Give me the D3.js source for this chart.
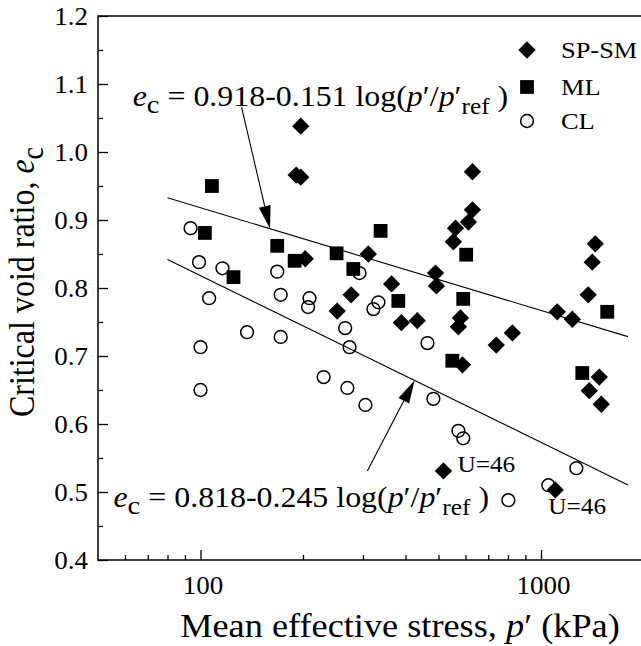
<!DOCTYPE html>
<html>
<head>
<meta charset="utf-8">
<script src="https://cdn.jsdelivr.net/npm/d3@7"></script>
<style>
  html, body { margin: 0; padding: 0; background: #fff; }
  svg { display: block; }
  text { font-family: "Liberation Serif", "Times New Roman", serif; fill: #000; }
</style>
</head>
<body>
<svg id="chart" width="641" height="646"></svg>
<script>
// Critical state void ratio e_c against mean effective stress p' (kPa)
// SP-SM sands
const spsmStress = [197, 191, 197, 203, 311, 364, 277, 252, 389, 433, 490, 493, 580, 572, 588, 517,
                    629, 629, 612, 561, 553, 739, 824, 1116, 1236, 1376, 1414, 1443, 1483, 1386, 1503, 1101];
const spsmVoid   = [1.038, 0.966, 0.963, 0.843, 0.850, 0.806, 0.790, 0.766, 0.749, 0.752, 0.822, 0.803, 0.756, 0.743, 0.687, 0.531,
                    0.971, 0.915, 0.897, 0.888, 0.868, 0.716, 0.734, 0.765, 0.754, 0.790, 0.838, 0.865, 0.669, 0.649, 0.629, 0.503];
// ML silts
const mlStress = [108, 103, 125, 168, 189, 251, 281, 338, 381, 603, 591, 549, 1322, 1565];
const mlVoid   = [0.950, 0.881, 0.816, 0.862, 0.840, 0.851, 0.828, 0.884, 0.781, 0.849, 0.784, 0.693, 0.675, 0.765];
// CL clays
const clStress = [93.5, 99, 116, 168, 106, 172, 209, 207, 137, 172, 100, 100, 230, 270, 305, 266, 274,
                  464, 483, 572, 591, 1270, 1051, 802, 293, 333, 322];
const clVoid   = [0.888, 0.838, 0.829, 0.824, 0.785, 0.790, 0.785, 0.772, 0.735, 0.728, 0.713, 0.650, 0.669, 0.653, 0.628, 0.741, 0.713,
                  0.719, 0.637, 0.590, 0.579, 0.535, 0.510, 0.488, 0.822, 0.779, 0.769];

// Fitted lines e_c = a - b log(p'/p'ref)
const fitIntercepts = [0.918, 0.818];
const fitSlopes = [0.151, 0.245];
const fitStressRange = [80, 1800];
const pRef = 100;

// Arrow tails (p', e_c) and the p' where each arrow meets its line
const arrowTailStress = [132, 309];
const arrowTailVoid = [1.066, 0.531];
const arrowTipStress = [160, 425];

// SP-SM points marked with U=46 (indices into the SP-SM arrays)
const uNoteIndex = [15, 31];
const uNoteText = ["U=46", "U=46"];

// Axes
const xDomain = [50, 2000];
const yDomain = [0.4, 1.2];
const xTickValues = [100, 1000];
const xTickLabels = ["100", "1000"];
const xMinorTicks = [60, 70, 80, 90, 200, 300, 400, 500, 600, 700, 800, 900];
const yTickValues = [0.4, 0.5, 0.6, 0.7, 0.8, 0.9, 1.0, 1.1, 1.2];
const yTickLabels = ["0.4", "0.5", "0.6", "0.7", "0.8", "0.9", "1.0", "1.1", "1.2"];
const yMinorTicks = [0.45, 0.55, 0.65, 0.75, 0.85, 0.95, 1.05, 1.15];

const legendLabels = ["SP-SM", "ML", "CL"];

const svg = d3.select("#chart");
const x = d3.scaleLog().domain(xDomain).range([98, 643.5]);
const y = d3.scaleLinear().domain(yDomain).range([560, 16]);

const SX = 1.1; // horizontal glyph stretch used for all text

// frame (right side runs past the visible area)
svg.append("rect")
  .attr("x", x(xDomain[0])).attr("y", y(yDomain[1]))
  .attr("width", x(xDomain[1]) - x(xDomain[0]))
  .attr("height", y(yDomain[0]) - y(yDomain[1]))
  .attr("fill", "none").attr("stroke", "#000").attr("stroke-width", 1.5);

function styleAxis(g) {
  g.selectAll(".domain").remove();
  g.selectAll(".tick line").attr("stroke", "#000").attr("stroke-width", 1.3);
}

// y axis: inward ticks
const gyMinor = svg.append("g").attr("transform", `translate(${x(xDomain[0])},0)`)
  .call(d3.axisLeft(y).tickValues(yMinorTicks).tickSize(-5).tickSizeOuter(0).tickFormat(""));
styleAxis(gyMinor);
const gy = svg.append("g").attr("transform", `translate(${x(xDomain[0])},0)`)
  .call(d3.axisLeft(y).tickValues(yTickValues).tickSize(-10).tickSizeOuter(0)
    .tickFormat((d, i) => yTickLabels[i]));
styleAxis(gy);
gy.selectAll(".tick text")
  .attr("x", null).attr("dy", "0.35em")
  .attr("transform", `translate(-10,0) scale(1.08,1)`)
  .attr("text-anchor", "end")
  .style("font-size", "25px").style("font-family", "Liberation Serif");

// x axis: inward ticks
const gxMinor = svg.append("g").attr("transform", `translate(0,${y(yDomain[0])})`)
  .call(d3.axisBottom(x).tickValues(xMinorTicks).tickSize(-5).tickSizeOuter(0).tickFormat(""));
styleAxis(gxMinor);
const gx = svg.append("g").attr("transform", `translate(0,${y(yDomain[0])})`)
  .call(d3.axisBottom(x).tickValues(xTickValues).tickSize(-10).tickSizeOuter(0)
    .tickFormat((d, i) => xTickLabels[i]));
styleAxis(gx);
gx.selectAll(".tick text")
  .attr("y", null).attr("dy", null)
  .attr("transform", `translate(2,34) scale(1.08,1)`)
  .attr("text-anchor", "middle")
  .style("font-size", "25px").style("font-family", "Liberation Serif");

// fitted lines
const lineGen = d3.line().x(d => x(d[0])).y(d => y(d[1]));
fitIntercepts.forEach((a, i) => {
  const pts = fitStressRange.map(p => [p, a - fitSlopes[i] * Math.log10(p / pRef)]);
  svg.append("path").attr("d", lineGen(pts))
    .attr("fill", "none").attr("stroke", "#000").attr("stroke-width", 1.1);
});

// arrows from equations to lines
arrowTailStress.forEach((p0, i) => {
  const p1 = arrowTipStress[i];
  const e1 = fitIntercepts[i] - fitSlopes[i] * Math.log10(p1 / pRef);
  const x0 = x(p0), y0 = y(arrowTailVoid[i]), x1 = x(p1), y1 = y(e1);
  const ang = Math.atan2(y1 - y0, x1 - x0);
  const len = 23, half = 6;
  const bx = x1 - len * Math.cos(ang), by = y1 - len * Math.sin(ang);
  svg.append("line").attr("x1", x0).attr("y1", y0).attr("x2", bx).attr("y2", by)
    .attr("stroke", "#000").attr("stroke-width", 1.1);
  const nx = -Math.sin(ang), ny = Math.cos(ang);
  svg.append("path")
    .attr("d", `M${x1},${y1}L${bx + nx * half},${by + ny * half}L${bx - nx * half},${by - ny * half}Z`)
    .attr("fill", "#000");
});

// markers
const diamond = d3.symbol().type(d3.symbolSquare).size(150);
const square = d3.symbol().type(d3.symbolSquare).size(190);

svg.append("g").selectAll("circle")
  .data(clStress.map((p, i) => [p, clVoid[i]]))
  .join("circle")
  .attr("cx", d => x(d[0])).attr("cy", d => y(d[1])).attr("r", 6.4)
  .attr("fill", "none").attr("stroke", "#000").attr("stroke-width", 1.5);

svg.append("g").selectAll("path")
  .data(mlStress.map((p, i) => [p, mlVoid[i]]))
  .join("path")
  .attr("d", square)
  .attr("transform", d => `translate(${x(d[0])},${y(d[1])})`)
  .attr("fill", "#000");

svg.append("g").selectAll("path")
  .data(spsmStress.map((p, i) => [p, spsmVoid[i]]))
  .join("path")
  .attr("d", diamond)
  .attr("transform", d => `translate(${x(d[0])},${y(d[1])}) rotate(45)`)
  .attr("fill", "#000");

// U=46 notes
const noteOffsets = [[14, 1], [-7, 24]];
uNoteIndex.forEach((k, i) => {
  svg.append("text")
    .attr("transform", `translate(${x(spsmStress[k]) + noteOffsets[i][0]},${y(spsmVoid[k]) + noteOffsets[i][1]}) scale(${SX},1)`)
    .style("font-size", "23px")
    .text(uNoteText[i]);
});

// equations
function equation(px, ey, a, b) {
  const t = svg.append("text")
    .attr("transform", `translate(${x(px)},${y(ey)}) scale(${SX},1)`)
    .style("font-size", "29px");
  t.append("tspan").style("font-style", "italic").text("e");
  t.append("tspan").attr("dy", 7).style("font-size", "26px").text("c");
  t.append("tspan").attr("dy", -7).text(` = ${a.toFixed(3)}-${b.toFixed(3)} log(`);
  t.append("tspan").style("font-style", "italic").text("p");
  t.append("tspan").text("\u2032/");
  t.append("tspan").style("font-style", "italic").text("p");
  t.append("tspan").text("\u2032");
  t.append("tspan").attr("dy", 8).style("font-size", "23px").text("ref");
  t.append("tspan").attr("dy", -8).text(" )");
}
equation(63.2, 1.068, fitIntercepts[0], fitSlopes[0]);
equation(55.5, 0.478, fitIntercepts[1], fitSlopes[1]);

// legend
const legend = svg.append("g");
const legY = [50, 87, 121];
legend.append("path").attr("d", diamond).attr("transform", `translate(527,${legY[0]}) rotate(45)`).attr("fill", "#000");
legend.append("path").attr("d", square).attr("transform", `translate(527,${legY[1]})`).attr("fill", "#000");
legend.append("circle").attr("cx", 527).attr("cy", legY[2]).attr("r", 6.4)
  .attr("fill", "none").attr("stroke", "#000").attr("stroke-width", 1.5);
legendLabels.forEach((s, i) => {
  legend.append("text")
    .attr("transform", `translate(561,${legY[i] + 8}) scale(${SX},1)`)
    .style("font-size", "24px").text(s);
});

// axis titles
const xt = svg.append("text")
  .attr("transform", `translate(400,637) scale(${SX},1)`)
  .attr("text-anchor", "middle").style("font-size", "33px");
xt.append("tspan").text("Mean effective stress, ");
xt.append("tspan").style("font-style", "italic").text("p");
xt.append("tspan").text("\u2032 (kPa)");

const yt = svg.append("text")
  .attr("transform", `translate(34,282) scale(${SX},1) rotate(-90)`)
  .attr("text-anchor", "middle").style("font-size", "32px");
yt.append("tspan").text("Critical void ratio, ");
yt.append("tspan").style("font-style", "italic").text("e");
yt.append("tspan").attr("dy", 8).style("font-size", "28px").text("c");
</script>
</body>
</html>
